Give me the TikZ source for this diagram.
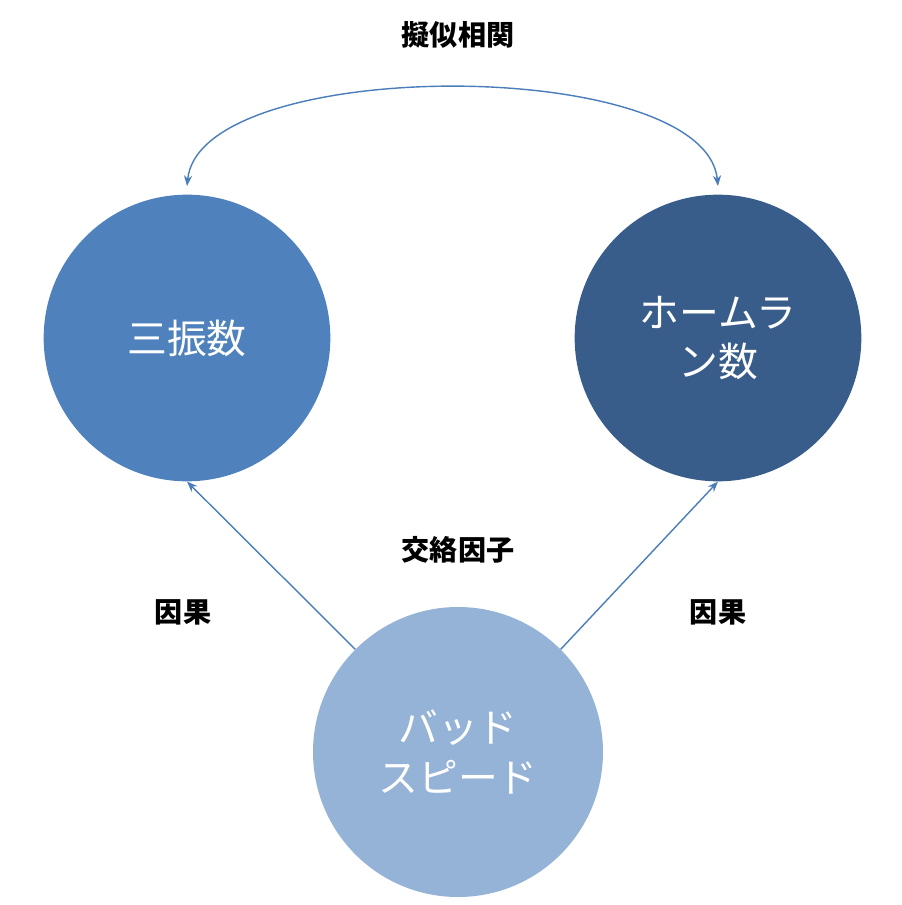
\documentclass[tikz,border=0pt]{standalone}
\usepackage{fontspec}
\setmainfont{Noto Sans CJK JP}
\usetikzlibrary{arrows.meta,positioning}
\definecolor{midblue}{HTML}{4F81BD}
\definecolor{darkblue}{HTML}{385D8A}
\definecolor{paleblue}{HTML}{95B3D7}
\definecolor{linkblue}{HTML}{4A7EBB}
\tikzset{arrows={-Stealth[length=9pt,width=7pt]}}
\tikzset{ball/.style={circle, minimum size=86mm, inner sep=0pt, align=center,
  text=white, font=\fontsize{34}{42}\selectfont},
  tag/.style={font=\bfseries\fontsize{24}{28}\selectfont}}

\begin{document}
\begin{tikzpicture}[x=0.3mm, y=-0.3mm]
  \useasboundingbox (0,0) rectangle (901,905);

  \node [ball, fill=midblue] (strikeouts) at (187,338) {三振数};
  \node [ball, fill=darkblue] (homeruns) at (718,338) {ホームラ\\ン数};
  \node [ball, fill=paleblue, minimum size=87mm] (batspeed) at (458,752) {バッド\\スピード};

  \node [tag] (spurious) at (458,35) {擬似相関};
  \node [tag] (confounder) at (458,550) {交絡因子};
  \node [tag] (causeleft) at (183,612) {因果};
  \node [tag] (causeright) at (718,612) {因果};

  \coordinate (topleft) at (187,186);
  \coordinate (topright) at (718,186);
  \draw [linkblue, line width=1.2pt, {Stealth[length=9pt,width=7pt]}-{Stealth[length=9pt,width=7pt]}]
    (topleft) .. controls (200,55) and (705,55) .. (topright);
  \draw [linkblue, line width=1.2pt] (batspeed.135) -- (strikeouts.south);
  \draw [linkblue, line width=1.2pt] (batspeed.45) -- (homeruns.south);
\end{tikzpicture}
\end{document}
